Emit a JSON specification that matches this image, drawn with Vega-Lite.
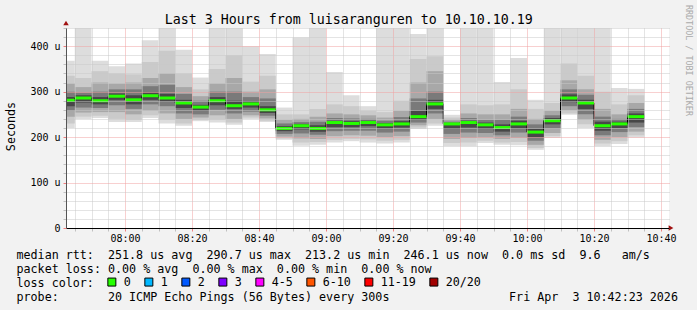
{
  "$schema": "https://vega.github.io/schema/vega-lite/v6.json",
  "width": 603,
  "height": 200,
  "autosize": {"type": "none"},
  "padding": {"left": 66, "top": 28, "right": 28, "bottom": 82},
  "background": "#f2f2f2",
  "title": {
    "text": "Last 3 Hours from luisaranguren to 10.10.10.19",
    "font": "DejaVu Sans Mono", "fontSize": 13.3, "fontWeight": "normal", "color": "#000000",
    "frame": "bounds", "anchor": "middle", "baseline": "alphabetic", "offset": -33
  },
  "data": {"values": [
    {"t": 460, "e": 465, "mn": 220, "mx": 368, "a0": 230, "a1": 335, "b0": 245, "b1": 318, "c0": 258, "c1": 300, "d0": 268, "d1": 288, "med": 281, "loss": "0"},
    {"t": 465, "e": 470, "mn": 240, "mx": 440, "a0": 245, "a1": 330, "b0": 254, "b1": 310, "c0": 265, "c1": 298, "d0": 276, "d1": 292, "med": 286, "loss": "0"},
    {"t": 470, "e": 475, "mn": 242, "mx": 368, "a0": 247, "a1": 345, "b0": 255, "b1": 320, "c0": 264, "c1": 300, "d0": 272, "d1": 288, "med": 280, "loss": "0"},
    {"t": 475, "e": 480, "mn": 233, "mx": 356, "a0": 240, "a1": 340, "b0": 255, "b1": 318, "c0": 270, "c1": 305, "d0": 282, "d1": 296, "med": 290, "loss": "0"},
    {"t": 480, "e": 485, "mn": 233, "mx": 362, "a0": 238, "a1": 338, "b0": 250, "b1": 320, "c0": 262, "c1": 305, "d0": 272, "d1": 292, "med": 282, "loss": "0"},
    {"t": 485, "e": 490, "mn": 242, "mx": 413, "a0": 248, "a1": 365, "b0": 258, "b1": 330, "c0": 272, "c1": 312, "d0": 282, "d1": 298, "med": 291, "loss": "0"},
    {"t": 490, "e": 495, "mn": 230, "mx": 440, "a0": 238, "a1": 390, "b0": 252, "b1": 340, "c0": 268, "c1": 315, "d0": 278, "d1": 295, "med": 286, "loss": "0"},
    {"t": 495, "e": 500, "mn": 225, "mx": 392, "a0": 230, "a1": 340, "b0": 240, "b1": 310, "c0": 252, "c1": 295, "d0": 264, "d1": 282, "med": 275, "loss": "0"},
    {"t": 500, "e": 505, "mn": 235, "mx": 331, "a0": 238, "a1": 305, "b0": 243, "b1": 290, "c0": 250, "c1": 280, "d0": 258, "d1": 271, "med": 266, "loss": "0"},
    {"t": 505, "e": 510, "mn": 232, "mx": 440, "a0": 238, "a1": 350, "b0": 248, "b1": 318, "c0": 260, "c1": 300, "d0": 270, "d1": 288, "med": 280, "loss": "0"},
    {"t": 510, "e": 515, "mn": 227, "mx": 440, "a0": 232, "a1": 380, "b0": 240, "b1": 330, "c0": 252, "c1": 300, "d0": 262, "d1": 280, "med": 269, "loss": "0"},
    {"t": 515, "e": 520, "mn": 240, "mx": 400, "a0": 243, "a1": 322, "b0": 248, "b1": 300, "c0": 256, "c1": 288, "d0": 265, "d1": 279, "med": 273, "loss": "0"},
    {"t": 520, "e": 525, "mn": 233, "mx": 383, "a0": 236, "a1": 335, "b0": 241, "b1": 305, "c0": 247, "c1": 285, "d0": 253, "d1": 268, "med": 260, "loss": "0"},
    {"t": 525, "e": 530, "mn": 194, "mx": 265, "a0": 197, "a1": 250, "b0": 201, "b1": 238, "c0": 207, "c1": 230, "d0": 213, "d1": 224, "med": 219, "loss": "0"},
    {"t": 530, "e": 535, "mn": 181, "mx": 419, "a0": 188, "a1": 250, "b0": 197, "b1": 240, "c0": 208, "c1": 233, "d0": 217, "d1": 229, "med": 225, "loss": "0"},
    {"t": 535, "e": 540, "mn": 183, "mx": 440, "a0": 189, "a1": 262, "b0": 196, "b1": 245, "c0": 205, "c1": 234, "d0": 212, "d1": 226, "med": 219, "loss": "0"},
    {"t": 540, "e": 545, "mn": 188, "mx": 343, "a0": 194, "a1": 272, "b0": 202, "b1": 252, "c0": 213, "c1": 242, "d0": 222, "d1": 236, "med": 232, "loss": "0"},
    {"t": 545, "e": 550, "mn": 191, "mx": 292, "a0": 196, "a1": 268, "b0": 204, "b1": 250, "c0": 214, "c1": 241, "d0": 222, "d1": 235, "med": 230, "loss": "0"},
    {"t": 550, "e": 555, "mn": 188, "mx": 268, "a0": 195, "a1": 258, "b0": 203, "b1": 248, "c0": 214, "c1": 240, "d0": 224, "d1": 236, "med": 232, "loss": "0"},
    {"t": 555, "e": 560, "mn": 186, "mx": 440, "a0": 192, "a1": 255, "b0": 200, "b1": 243, "c0": 210, "c1": 236, "d0": 219, "d1": 231, "med": 227, "loss": "0"},
    {"t": 560, "e": 565, "mn": 188, "mx": 440, "a0": 194, "a1": 280, "b0": 202, "b1": 258, "c0": 212, "c1": 244, "d0": 221, "d1": 235, "med": 229, "loss": "0"},
    {"t": 565, "e": 570, "mn": 218, "mx": 427, "a0": 221, "a1": 372, "b0": 226, "b1": 320, "c0": 232, "c1": 285, "d0": 238, "d1": 258, "med": 245, "loss": "0"},
    {"t": 570, "e": 575, "mn": 225, "mx": 440, "a0": 230, "a1": 378, "b0": 240, "b1": 345, "c0": 252, "c1": 300, "d0": 262, "d1": 282, "med": 273, "loss": "0"},
    {"t": 575, "e": 580, "mn": 180, "mx": 249, "a0": 187, "a1": 243, "b0": 196, "b1": 238, "c0": 207, "c1": 234, "d0": 218, "d1": 231, "med": 229, "loss": "0"},
    {"t": 580, "e": 585, "mn": 180, "mx": 440, "a0": 188, "a1": 272, "b0": 198, "b1": 252, "c0": 210, "c1": 242, "d0": 221, "d1": 236, "med": 232, "loss": "0"},
    {"t": 585, "e": 590, "mn": 187, "mx": 440, "a0": 192, "a1": 270, "b0": 199, "b1": 250, "c0": 209, "c1": 238, "d0": 218, "d1": 232, "med": 227, "loss": "0"},
    {"t": 590, "e": 595, "mn": 183, "mx": 321, "a0": 188, "a1": 272, "b0": 196, "b1": 250, "c0": 204, "c1": 238, "d0": 212, "d1": 228, "med": 221, "loss": "0"},
    {"t": 595, "e": 600, "mn": 182, "mx": 374, "a0": 189, "a1": 305, "b0": 198, "b1": 262, "c0": 210, "c1": 245, "d0": 219, "d1": 236, "med": 229, "loss": "0"},
    {"t": 600, "e": 605, "mn": 172, "mx": 282, "a0": 176, "a1": 262, "b0": 183, "b1": 240, "c0": 192, "c1": 228, "d0": 200, "d1": 218, "med": 211, "loss": "0"},
    {"t": 605, "e": 610, "mn": 198, "mx": 440, "a0": 202, "a1": 275, "b0": 209, "b1": 258, "c0": 219, "c1": 248, "d0": 228, "d1": 242, "med": 236, "loss": "0"},
    {"t": 610, "e": 615, "mn": 249, "mx": 440, "a0": 252, "a1": 362, "b0": 259, "b1": 325, "c0": 268, "c1": 305, "d0": 277, "d1": 294, "med": 286, "loss": "0"},
    {"t": 615, "e": 620, "mn": 220, "mx": 440, "a0": 228, "a1": 335, "b0": 238, "b1": 305, "c0": 250, "c1": 293, "d0": 262, "d1": 282, "med": 275, "loss": "0"},
    {"t": 620, "e": 625, "mn": 180, "mx": 440, "a0": 186, "a1": 300, "b0": 194, "b1": 262, "c0": 204, "c1": 245, "d0": 214, "d1": 234, "med": 225, "loss": "0"},
    {"t": 625, "e": 630, "mn": 185, "mx": 308, "a0": 191, "a1": 272, "b0": 200, "b1": 250, "c0": 211, "c1": 240, "d0": 220, "d1": 234, "med": 229, "loss": "0"},
    {"t": 630, "e": 635, "mn": 199, "mx": 306, "a0": 204, "a1": 292, "b0": 212, "b1": 275, "c0": 222, "c1": 262, "d0": 232, "d1": 252, "med": 245, "loss": "0"}
  ]},
  "resolve": {"axis": {"x": "independent", "y": "independent"}},
  "layer": [
    {
      "mark": {"type": "rect", "color": "#dddddd", "clip": true},
      "encoding": {
        "x": {"field": "t", "type": "quantitative",
          "scale": {"domain": [462.383, 642.383], "nice": false, "zero": false},
          "axis": {
            "values": [465,470,475,480,485,490,495,500,505,510,515,520,525,530,535,540,545,550,555,560,565,570,575,580,585,590,595,600,605,610,615,620,625,630,635,640],
            "labelExpr": "datum.value % 20 === 0 ? format(floor(datum.value / 60), '02d') + ':' + format(datum.value % 60, '02d') : ''",
            "labelFont": "DejaVu Sans Mono", "labelFontSize": 10, "labelColor": "#000000",
            "labelOverlap": false, "labelFlush": false, "labelBound": false, "labelPadding": 2,
            "grid": true, "gridDash": [1, 1], "gridWidth": 1,
            "gridColor": {"condition": {"test": "datum.value % 20 === 0", "value": "#f0a0a0"}, "value": "#c8c8c8"},
            "ticks": true, "tickSize": 3, "tickWidth": 1,
            "tickColor": {"condition": {"test": "datum.value % 20 === 0", "value": "#f08080"}, "value": "#c0c0c0"},
            "domain": true, "domainColor": "#000000", "domainWidth": 1,
            "zindex": 1,
            "title": [
              "median\u00a0rtt:\u00a0\u00a0251.8\u00a0us\u00a0avg\u00a0\u00a0290.7\u00a0us\u00a0max\u00a0\u00a0213.2\u00a0us\u00a0min\u00a0\u00a0246.1\u00a0us\u00a0now\u00a0\u00a00.0\u00a0ms\u00a0sd\u00a0\u00a09.6\u00a0\u00a0\u00a0am/s",
              "packet\u00a0loss:\u00a00.00\u00a0%\u00a0avg\u00a0\u00a00.00\u00a0%\u00a0max\u00a0\u00a00.00\u00a0%\u00a0min\u00a0\u00a00.00\u00a0%\u00a0now",
              "loss\u00a0color:",
              "probe:\u00a0\u00a0\u00a0\u00a0\u00a0\u00a0\u00a020\u00a0ICMP\u00a0Echo\u00a0Pings\u00a0(56\u00a0Bytes)\u00a0every\u00a0300s\u00a0\u00a0\u00a0\u00a0\u00a0\u00a0\u00a0\u00a0\u00a0\u00a0\u00a0\u00a0\u00a0\u00a0\u00a0\u00a0\u00a0Fri\u00a0Apr\u00a0\u00a03\u00a010:42:23\u00a02026"
            ],
            "titleX": -50, "titleY": 30, "titleAlign": "left", "titleAnchor": "start", "titleBaseline": "alphabetic", "titleAngle": 0,
            "titleFont": "DejaVu Sans Mono", "titleFontSize": 11.7, "titleFontWeight": "normal", "titleColor": "#000000", "titleLineHeight": 14
          }
        },
        "x2": {"field": "e"},
        "y": {"field": "mn", "type": "quantitative",
          "scale": {"domain": [0, 440], "nice": false, "zero": true},
          "axis": {
            "values": [0,20,40,60,80,100,120,140,160,180,200,220,240,260,280,300,320,340,360,380,400,420,440],
            "labelExpr": "datum.value % 100 === 0 ? (datum.value === 0 ? '0\u00a0\u00a0' : datum.value + '\u00a0u') : ''",
            "labelFont": "DejaVu Sans Mono", "labelFontSize": 10, "labelColor": "#000000",
            "labelOverlap": false, "labelFlush": false, "labelBound": false, "labelPadding": 3,
            "grid": true, "gridDash": [1, 1], "gridWidth": 1,
            "gridColor": {"condition": {"test": "datum.value % 100 === 0", "value": "#f0a0a0"}, "value": "#c8c8c8"},
            "ticks": true, "tickSize": 3, "tickWidth": 1,
            "tickColor": {"condition": {"test": "datum.value % 100 === 0", "value": "#f08080"}, "value": "#c0c0c0"},
            "domain": true, "domainColor": "#555555", "domainWidth": 1,
            "zindex": 1,
            "title": "Seconds", "titleX": -56, "titleY": 98, "titleAngle": 270, "titleAlign": "center", "titleBaseline": "middle",
            "titleFont": "DejaVu Sans Mono", "titleFontSize": 11.7, "titleFontWeight": "normal", "titleColor": "#000000"
          }
        },
        "y2": {"field": "mx"}
      }
    },
    {
      "mark": {"type": "rect", "color": "#cacaca", "clip": true},
      "encoding": {
        "x": {"field": "t", "type": "quantitative", "axis": null}, "x2": {"field": "e"},
        "y": {"field": "a0", "type": "quantitative", "axis": null}, "y2": {"field": "a1"}
      }
    },
    {
      "mark": {"type": "rect", "color": "#a8a8a8", "clip": true},
      "encoding": {
        "x": {"field": "t", "type": "quantitative", "axis": null}, "x2": {"field": "e"},
        "y": {"field": "b0", "type": "quantitative", "axis": null}, "y2": {"field": "b1"}
      }
    },
    {
      "mark": {"type": "rect", "color": "#7a7a7a", "clip": true},
      "encoding": {
        "x": {"field": "t", "type": "quantitative", "axis": null}, "x2": {"field": "e"},
        "y": {"field": "c0", "type": "quantitative", "axis": null}, "y2": {"field": "c1"}
      }
    },
    {
      "mark": {"type": "rect", "color": "#474747", "clip": true},
      "encoding": {
        "x": {"field": "t", "type": "quantitative", "axis": null}, "x2": {"field": "e"},
        "y": {"field": "d0", "type": "quantitative", "axis": null}, "y2": {"field": "d1"}
      }
    },
    {
      "mark": {"type": "line", "interpolate": "step-after", "color": "#000000", "strokeWidth": 1, "clip": true},
      "encoding": {
        "x": {"field": "t", "type": "quantitative", "axis": null},
        "y": {"field": "med", "type": "quantitative", "axis": null}
      }
    },
    {
      "mark": {"type": "rule", "color": "#26ff00", "strokeWidth": 3, "strokeCap": "butt", "clip": true},
      "encoding": {
        "x": {"field": "t", "type": "quantitative", "axis": null}, "x2": {"field": "e"},
        "y": {"field": "med", "type": "quantitative", "axis": null}
      }
    },
    {
      "mark": {"type": "square", "opacity": 0, "size": 4, "clip": true},
      "encoding": {
        "x": {"field": "t", "type": "quantitative", "axis": null},
        "y": {"field": "med", "type": "quantitative",
          "axis": {
            "orient": "right", "labels": false, "ticks": false, "domain": false, "grid": false,
            "title": "RRDTOOL / TOBI OETIKER", "titleAngle": 90, "titleX": 19.5, "titleY": 32,
            "titleAlign": "center", "titleBaseline": "middle",
            "titleFont": "DejaVu Sans Mono", "titleFontSize": 8.4, "titleFontWeight": "normal", "titleColor": "#aaaaaa"
          }
        },
        "color": {"field": "loss", "type": "nominal",
          "scale": {"domain": ["0", "1", "2", "3", "4-5", "6-10", "11-19", "20/20"],
                    "range": ["#26ff00", "#00b8ff", "#0059ff", "#7e00ff", "#ff00ff", "#ff5500", "#ff0000", "#a10000"]},
          "legend": {
            "orient": "none", "legendX": 40, "legendY": 248, "direction": "horizontal",
            "title": null,
            "labelFont": "DejaVu Sans Mono", "labelFontSize": 11.7, "labelColor": "#000000", "labelOffset": 6,
            "symbolType": "square", "symbolSize": 64, "symbolStrokeColor": "#000000", "symbolStrokeWidth": 1, "symbolOpacity": 1,
            "columnPadding": 11, "padding": 0, "symbolOffset": 0
          }
        }
      }
    },
    {
      "data": {"values": [{"corner": "top"}]},
      "mark": {"type": "point", "shape": "triangle-up", "size": 30, "filled": true, "color": "#a01010", "opacity": 1, "yOffset": -5},
      "encoding": {
        "x": {"datum": 462.383, "type": "quantitative", "axis": null},
        "y": {"datum": 440, "type": "quantitative", "axis": null}
      }
    },
    {
      "data": {"values": [{"corner": "right"}]},
      "mark": {"type": "point", "shape": "triangle-right", "size": 30, "filled": true, "color": "#a01010", "opacity": 1, "xOffset": 2},
      "encoding": {
        "x": {"datum": 642.383, "type": "quantitative", "axis": null},
        "y": {"datum": 0, "type": "quantitative", "axis": null}
      }
    }
  ],
  "config": {
    "view": {"fill": "#ffffff", "stroke": null}
  }
}
